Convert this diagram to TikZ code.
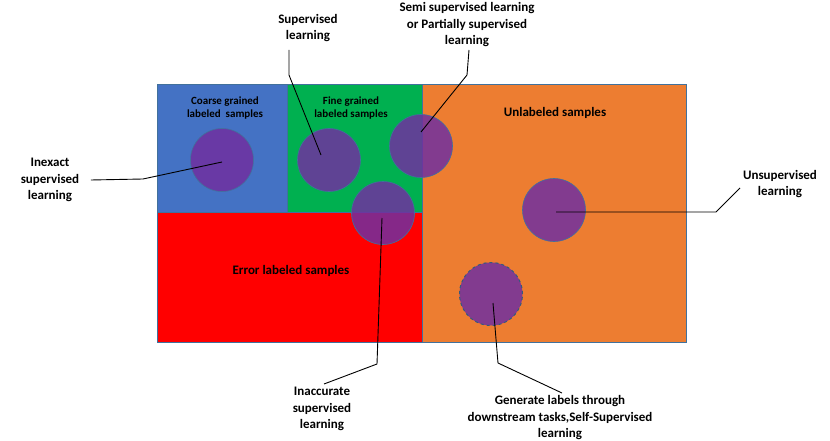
\documentclass[tikz,border=0pt]{standalone}
\usepackage{fontspec}
\setmainfont{Carlito}
\usetikzlibrary{positioning}
\definecolor{boxblue}{HTML}{4472C4}
\definecolor{boxgreen}{HTML}{00B050}
\definecolor{boxred}{HTML}{FF0000}
\definecolor{boxorange}{HTML}{ED7D31}
\definecolor{edgeblue}{HTML}{41719C}
\definecolor{blobpurple}{HTML}{7030A0}
\tikzset{
  region/.style={draw=edgeblue,line width=0.8pt},
  blob/.style={circle,draw=edgeblue,line width=0.6pt,fill=blobpurple,
               fill opacity=0.85,minimum size=63pt,inner sep=0pt},
  tag/.style={align=center,font=\bfseries\fontsize{13}{16.5}\selectfont},
  smalltag/.style={align=center,font=\bfseries\fontsize{11}{13.5}\selectfont},
  leader/.style={draw=black,line width=0.9pt}
}

\begin{document}
\begin{tikzpicture}[x=1pt,y=-1pt]
  \useasboundingbox (0,0) rectangle (830,441);
  % sample regions
  \path[region,fill=boxblue]   (157,84)  rectangle (287,212);
  \path[region,fill=boxgreen]  (287,84)  rectangle (422,212);
  \path[region,fill=boxred]    (157,212) rectangle (422,342);
  \path[region,fill=boxorange] (422,84)  rectangle (686,342);
  \node[smalltag] (coarsetxt) at (225,108) {Coarse grained\\labeled~ samples};
  \node[smalltag] (finetxt) at (351,108) {Fine grained\\labeled samples};
  \node[tag] (unlabtxt) at (555,113) {Unlabeled samples};
  \node[tag] (errtxt) at (291,271) {Error labeled samples};
  % learning settings
  \node[blob] (coarse) at (222,160) {};
  \node[blob] (sup) at (329,160) {};
  \node[blob] (semi) at (421,146) {};
  \node[blob] (inacc) at (383,213) {};
  \node[blob] (unsup) at (554,210) {};
  \node[blob,draw=edgeblue!80!black,line width=1pt,dash pattern=on 3pt off 3pt] (self) at (491,294) {};
  % outer labels
  \node[tag] (inexact) at (50,180) {Inexact\\supervised\\learning};
  \node[tag] (suplbl) at (308,28) {Supervised\\learning};
  \node[tag] (semilbl) at (467,25) {Semi supervised learning\\or Partially supervised\\learning};
  \node[tag] (unsuplbl) at (780,184) {Unsupervised\\learning};
  \node[tag] (inacclbl) at (322,409) {Inaccurate\\supervised\\learning};
  \node[tag] (selflbl) at (560,418) {Generate labels through\\downstream tasks,Self-Supervised\\learning};
  % leaders
  \draw[leader] ([xshift=8pt]inexact.east) -- (143,179) -- ([shift={(0,2)}]coarse.center);
  \draw[leader] (289,50) -- (289,75) -- ([shift={(-8,-5)}]sup.center);
  \draw[leader] (469,50) -- (467,75) -- ([shift={(0,-14)}]semi.center);
  \draw[leader] ([shift={(-1,5)}]inacc.center) -- (377,364) -- (324,384);
  \draw[leader] ([shift={(2,2)}]unsup.center) -- (716,212) -- (740,188);
  \draw[leader] ([shift={(2,9)}]self.center) -- (498,363) -- (562,393);
\end{tikzpicture}
\end{document}
